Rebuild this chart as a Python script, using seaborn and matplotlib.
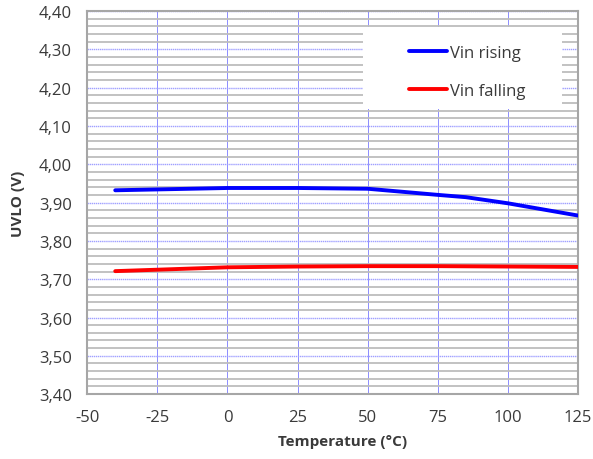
import matplotlib
matplotlib.use('Agg')

import matplotlib.pyplot as plt
import matplotlib.ticker as mticker
from matplotlib.patches import Rectangle
import pandas as pd
import seaborn as sns

temp_rising = [-40, 0, 25, 50, 75, 85, 100, 125]
vin_rising = [3.932, 3.938, 3.938, 3.936, 3.920, 3.914, 3.898, 3.866]
temp_falling = [-40, 0, 25, 50, 75, 100, 125]
vin_falling = [3.721, 3.731, 3.733, 3.734, 3.734, 3.733, 3.732]
series_names = ['Vin rising', 'Vin falling']
x_ticks = [-50, -25, 0, 25, 50, 75, 100, 125]

df = pd.concat([
    pd.DataFrame({'temp': temp_rising, 'uvlo': vin_rising, 'series': series_names[0]}),
    pd.DataFrame({'temp': temp_falling, 'uvlo': vin_falling, 'series': series_names[1]}),
])

sns.set_style('white')
plt.rcParams['font.family'] = ['Open Sans', 'DejaVu Sans']
plt.rcParams['axes.unicode_minus'] = False
txt = '#3a3a3a'

fig = plt.figure(figsize=(5.93, 4.60), dpi=100)
ax = fig.add_axes([0.147, 0.141, 0.828, 0.833])

sns.lineplot(data=df, x='temp', y='uvlo', hue='series', palette=['#0000ff', '#ff0000'],
             linewidth=2.8, ax=ax, zorder=5)

ax.set_xlim(-50, 125)
ax.set_ylim(3.40, 4.40)
ax.set_xticks(x_ticks)
ax.yaxis.set_major_locator(mticker.MultipleLocator(0.1))
ax.yaxis.set_minor_locator(mticker.MultipleLocator(0.02))
ax.yaxis.set_major_formatter(mticker.FuncFormatter(lambda v, p: f'{v:.2f}'.replace('.', ',')))

ax.grid(which='minor', axis='y', color='#bdbdbd', linewidth=1.3, zorder=0)
ax.grid(which='major', axis='y', color='#a0a0ff', linewidth=1.0, linestyle=(0, (1, 0.5)), zorder=1)
ax.grid(which='major', axis='x', color='#8c8cff', linewidth=0.7, zorder=1)
ax.set_axisbelow(True)

for s in ax.spines.values():
    s.set_color('#a6a6a6')
    s.set_linewidth(1.5)

ax.tick_params(axis='both', which='both', length=0, labelsize=12, labelcolor=txt)
ax.tick_params(axis='x', pad=11)
ax.tick_params(axis='y', pad=11)
ax.set_xlabel('Temperature (°C)', fontsize=11, fontweight='bold', color=txt, labelpad=4)
ax.xaxis.set_label_coords(0.52, -0.105)
ax.set_ylabel('UVLO (V)', fontsize=11, fontweight='bold', color=txt, labelpad=10)

# biale tlo legendy (bez ramki)
ax.add_patch(Rectangle((0.562, 0.744), 0.405, 0.214, transform=ax.transAxes,
                       facecolor='white', edgecolor='none', zorder=3))

handles, labels = ax.get_legend_handles_labels()
leg = ax.legend(handles, labels, loc='upper left', bbox_to_anchor=(0.655, 0.912), frameon=False,
                fontsize=12, handlelength=2.3, handletextpad=0.15, labelspacing=1.35,
                borderpad=0, borderaxespad=0)
leg.set_zorder(6)
for t in leg.get_texts():
    t.set_color(txt)

plt.savefig('out.png', dpi=100)
